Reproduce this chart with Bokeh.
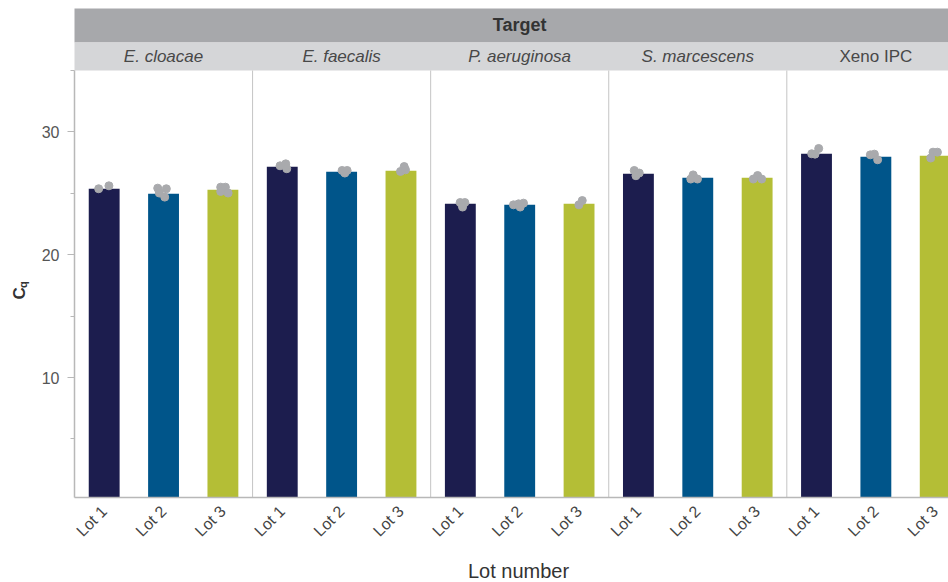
import math
from bokeh.plotting import figure
from bokeh.models import Range1d, FixedTicker
from bokeh.embed import file_html
from bokeh.resources import INLINE
from bokeh.core.properties import value

# ---------------- data ----------------
targets = ["E. cloacae", "E. faecalis", "P. aeruginosa", "S. marcescens", "Xeno IPC"]
target_italic = [True, True, True, True, False]
lots = ["Lot 1", "Lot 2", "Lot 3"]
lot_colors = ["#1c1d4e", "#00558a", "#b4be36"]

# mean Cq per target for each lot
cq_lot1 = [25.37, 27.16, 24.14, 26.59, 28.22]
cq_lot2 = [24.96, 26.75, 24.06, 26.26, 27.97]
cq_lot3 = [25.28, 26.83, 24.14, 26.26, 28.05]

# replicate Cq values (per target: lot1, lot2, lot3)
rep_e_cloacae = [[25.37, 25.61], [25.42, 25.37, 25.02, 24.69], [25.50, 25.50, 25.15, 25.02]]
rep_e_faecalis = [[27.24, 27.40, 27.00], [26.86, 26.86, 26.65], [27.18, 26.78, 26.91]]
rep_p_aeruginosa = [[24.25, 24.25, 23.88], [24.06, 24.14, 24.20, 23.88], [24.06, 24.41]]
rep_s_marcescens = [[26.86, 26.65, 26.43], [26.50, 26.16, 26.16], [26.45, 26.16, 26.16]]
rep_xeno_ipc = [[28.22, 28.19, 28.65], [28.13, 28.19, 27.73], [27.87, 28.35, 28.35]]

# horizontal jitter of replicate points (in lot-slot units)
jit_e_cloacae = [[-0.093, 0.080], [-0.098, 0.047, -0.071, 0.020], [-0.037, 0.042, -0.037, 0.088]]
jit_e_faecalis = [[-0.037, 0.059, 0.076], [0.008, 0.093, 0.054], [0.054, -0.008, 0.076]]
jit_p_aeruginosa = [[-0.003, 0.076, 0.037], [-0.105, -0.020, 0.064, 0.008], [-0.003, 0.054]]
jit_s_marcescens = [[-0.070, 0.014, -0.042], [-0.078, -0.118, -0.005], [0.008, -0.064, 0.076]]
jit_xeno_ipc = [[-0.081, -0.025, 0.037], [-0.093, -0.025, 0.030], [-0.076, -0.037, 0.037]]

y_ticks = [10, 20, 30]
y_minor_ticks = [5, 15, 25, 35]
y_min, y_max = 0.23, 35.0
y_title = "C"
y_title_sub = "q"
x_title = "Lot number"
facet_title = "Target"

# ---------------- build ----------------
FONT = "Liberation Sans"
GRAY_LINE = "#b8b8b8"
n_t = len(targets)
n_l = len(lots)
n_x = n_t * n_l

bar_x, bar_top, bar_color = [], [], []
for i in range(n_t):
    for j, series in enumerate([cq_lot1, cq_lot2, cq_lot3]):
        bar_x.append(i * n_l + j + 0.5)
        bar_top.append(series[i])
        bar_color.append(lot_colors[j])

reps = [rep_e_cloacae, rep_e_faecalis, rep_p_aeruginosa, rep_s_marcescens, rep_xeno_ipc]
jits = [jit_e_cloacae, jit_e_faecalis, jit_p_aeruginosa, jit_s_marcescens, jit_xeno_ipc]
dot_x, dot_y = [], []
for i in range(n_t):
    for j in range(n_l):
        for v, dj in zip(reps[i][j], jits[i][j]):
            dot_x.append(i * n_l + j + 0.5 + dj)
            dot_y.append(v)

# page geometry (pixels): plot area from x=74 and from y=70 (top) to y=497 (bottom)
W, H = 948, 582
PX_LEFT, PX_TOP, PX_BOTTOM = 74, 70, 497
px_x = 59.36                                   # pixels per lot slot
px_y = (PX_BOTTOM - PX_TOP) / (y_max - y_min)  # pixels per Cq unit


def ydat(py):
    return y_min + (PX_BOTTOM - py) / px_y


def xdat(px):
    return (px - PX_LEFT) / px_x


p = figure(width=W, height=H,
           x_range=Range1d(xdat(0), xdat(W)), y_range=Range1d(ydat(H), ydat(0)),
           output_backend="svg", toolbar_location=None,
           min_border_left=0, min_border_right=0, min_border_top=0, min_border_bottom=0)
p.outline_line_color = None
p.grid.visible = False

# facet strips
strip_top, strip_mid = ydat(8), ydat(42)
p.quad(left=[0], right=[n_x], bottom=[strip_mid], top=[strip_top], fill_color="#a7a8ab", line_color=None)
p.quad(left=[0], right=[n_x], bottom=[y_max], top=[strip_mid], fill_color="#d5d6d8", line_color=None)
p.text(x=[n_x / 2], y=[ydat(24)], text=[facet_title], text_font=value(FONT), text_font_style="bold",
       text_font_size="18px", text_color="#333333", text_align="center", text_baseline="middle")
for i, t in enumerate(targets):
    p.text(x=[i * n_l + n_l / 2], y=[ydat(56)], text=[t], text_font=value(FONT),
           text_font_style="italic" if target_italic[i] else "normal",
           text_font_size="17px", text_color="#484848", text_align="center", text_baseline="middle")

# panel dividers
div_x = [k * n_l for k in range(1, n_t)]
p.segment(x0=div_x, x1=div_x, y0=[y_min] * len(div_x), y1=[y_max] * len(div_x),
          line_color="#c4c4c4", line_width=1)

# bars and replicate points
p.vbar(x=bar_x, top=bar_top, bottom=y_min, width=0.52, fill_color=bar_color, line_color=None)
p.scatter(x=dot_x, y=dot_y, size=8, fill_color="#a9aaad", line_color="#a9aaad")

# y axis
p.yaxis.fixed_location = 0
p.yaxis.bounds = (y_min, y_max)
p.yaxis.ticker = FixedTicker(ticks=y_ticks, minor_ticks=y_minor_ticks)
p.yaxis.axis_line_color = GRAY_LINE
p.yaxis.axis_line_width = 1.5
p.yaxis.major_tick_line_color = GRAY_LINE
p.yaxis.minor_tick_line_color = GRAY_LINE
p.yaxis.major_tick_out = 7
p.yaxis.major_tick_in = 0
p.yaxis.minor_tick_out = 4
p.yaxis.minor_tick_in = 0
p.yaxis.major_label_standoff = 8
p.yaxis.major_label_text_font = FONT
p.yaxis.major_label_text_font_size = "16px"
p.yaxis.major_label_text_color = "#555555"

# x axis
tick_pos = [i * n_l + j + 0.5 for i in range(n_t) for j in range(n_l)]
p.xaxis.fixed_location = y_min
p.xaxis.bounds = (0, xdat(W))
p.xaxis.ticker = FixedTicker(ticks=tick_pos, minor_ticks=[])
p.xaxis.major_label_overrides = {pos: lots[k % n_l] for k, pos in enumerate(tick_pos)}
p.xaxis.major_label_orientation = math.pi / 4
p.xaxis.axis_line_color = GRAY_LINE
p.xaxis.axis_line_width = 1.5
p.xaxis.major_tick_line_color = None
p.xaxis.major_tick_out = 0
p.xaxis.major_tick_in = 0
p.xaxis.minor_tick_line_color = None
p.xaxis.major_label_standoff = 11
p.xaxis.major_label_text_font = FONT
p.xaxis.major_label_text_font_size = "16px"
p.xaxis.major_label_text_color = "#444444"

# axis titles: C with subscript q (rotated) and x title
p.text(x=[xdat(19)], y=[ydat(299)], text=[y_title], angle=math.pi / 2, text_font=value(FONT),
       text_font_style="bold", text_font_size="17px", text_color="#333333",
       text_align="left", text_baseline="middle")
p.text(x=[xdat(22)], y=[ydat(287.5)], text=[y_title_sub], angle=math.pi / 2, text_font=value(FONT),
       text_font_style="bold", text_font_size="11px", text_color="#333333",
       text_align="left", text_baseline="middle")
p.text(x=[xdat(518)], y=[ydat(570)], text=[x_title], text_font=value(FONT),
       text_font_size="20px", text_color="#333333", text_align="center", text_baseline="middle")

open("out.html", "w").write(file_html(p, INLINE))
